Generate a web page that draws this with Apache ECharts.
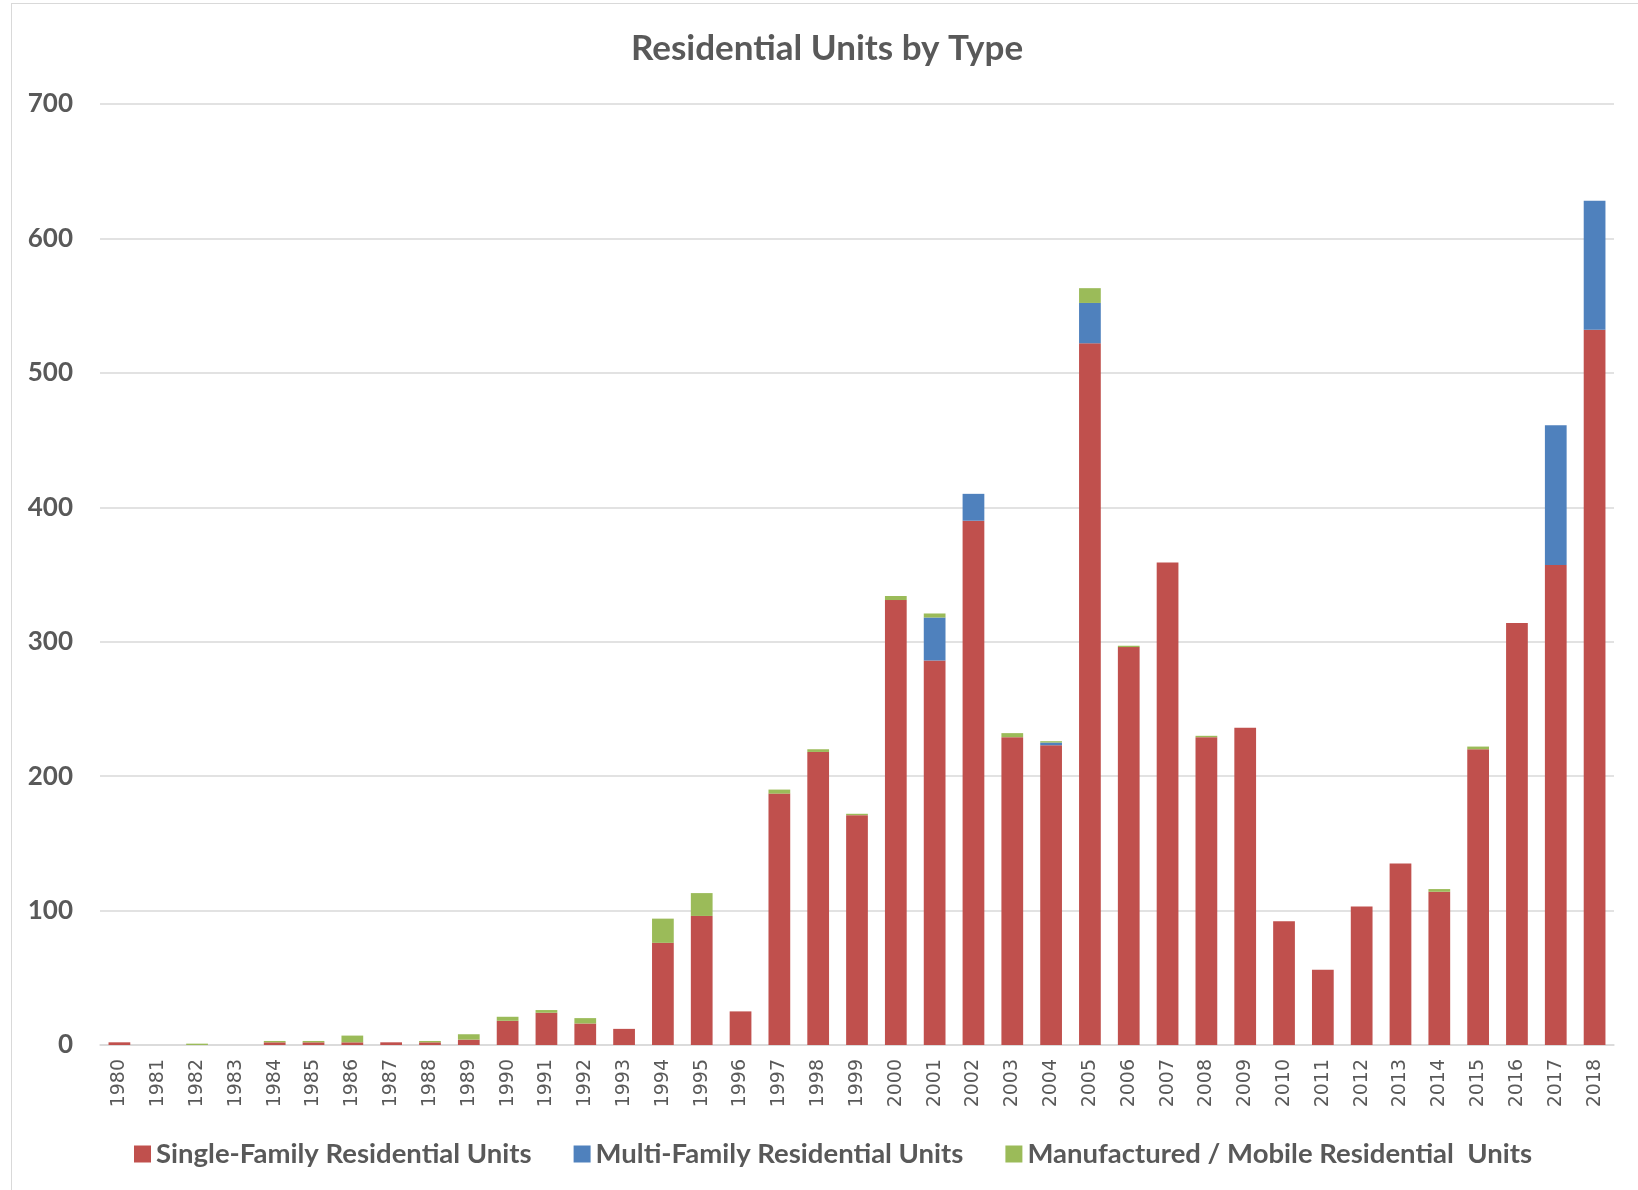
<!DOCTYPE html>
<html>
<head>
<meta charset="utf-8">
<title>Residential Units by Type</title>
<script src="https://cdn.jsdelivr.net/npm/echarts@6/dist/echarts.min.js"></script>
<style>
  html, body { margin: 0; padding: 0; overflow: hidden; background: #fff; }
  #frame { position: absolute; left: 11px; top: 3px; width: 1700px; height: 1300px; border: 1px solid #d9d9d9; }
  #main { position: absolute; left: 0; top: 0; width: 1638px; height: 1190px; }
</style>
</head>
<body>
<div id="frame"></div>
<div id="main"></div>
<script>
// 年份
const years = ['1980', '1981', '1982', '1983', '1984', '1985', '1986', '1987', '1988', '1989',
  '1990', '1991', '1992', '1993', '1994', '1995', '1996', '1997', '1998', '1999',
  '2000', '2001', '2002', '2003', '2004', '2005', '2006', '2007', '2008', '2009',
  '2010', '2011', '2012', '2013', '2014', '2015', '2016', '2017', '2018']

const singleFamily = [2, 0, 0, 0, 2, 2, 2, 2, 2, 4,
  18, 24, 16, 12, 76, 96, 25, 187, 218, 171,
  331, 286, 390, 229, 223, 522, 296, 359, 229, 236,
  92, 56, 103, 135, 114, 220, 314, 357, 532]

const multiFamily = [0, 0, 0, 0, 0, 0, 0, 0, 0, 0,
  0, 0, 0, 0, 0, 0, 0, 0, 0, 0,
  0, 32, 20, 0, 2, 30, 0, 0, 0, 0,
  0, 0, 0, 0, 0, 0, 0, 104, 96]

const manufactured = [0, 0, 1, 0, 1, 1, 5, 0, 1, 4,
  3, 2, 4, 0, 18, 17, 0, 3, 2, 1,
  3, 3, 0, 3, 1, 11, 1, 0, 1, 0,
  0, 0, 0, 0, 2, 2, 0, 0, 0]

const yTicks = { min: 0, max: 700, interval: 100 }

const seriesNames = ['Single-Family Residential Units', 'Multi-Family Residential Units', 'Manufactured / Mobile Residential  Units']
const seriesColors = ['#c0504d', '#4f81bd', '#9bbb59']

const textGray = '#595959'
const gridGray = '#d9d9d9'

var myChart = echarts.init(document.getElementById('main'))

var option = {
  animation: false,
  title: {
    text: 'Residential Units by Type',
    left: 827,
    textAlign: 'center',
    top: 31,
    padding: 0,
    textStyle: {
      fontFamily: 'Lato',
      fontWeight: 'bold',
      fontSize: 35,
      color: textGray
    }
  },
  legend: {
    data: seriesNames,
    left: 129,
    top: 1135,
    itemWidth: 17,
    itemHeight: 17,
    itemGap: 42,
    icon: 'rect',
    textStyle: {
      fontFamily: 'Lato',
      fontWeight: 'bold',
      fontSize: 27.5,
      color: textGray
    }
  },
  grid: {
    left: 100,
    right: 24,
    top: 104,
    bottom: 145
  },
  xAxis: {
    type: 'category',
    data: years,
    axisTick: { show: false },
    axisLine: { lineStyle: { color: gridGray, width: 1.5 } },
    axisLabel: {
      interval: 0,
      rotate: 90,
      margin: 14,
      fontFamily: 'DejaVu Sans',
      fontSize: 19,
      color: textGray
    }
  },
  yAxis: {
    type: 'value',
    min: yTicks.min,
    max: yTicks.max,
    interval: yTicks.interval,
    axisLine: { show: false },
    axisTick: { show: false },
    splitLine: { lineStyle: { color: gridGray, width: 1.5 } },
    axisLabel: {
      margin: 27,
      fontFamily: 'Lato',
      fontWeight: 'bold',
      fontSize: 26,
      color: textGray
    }
  },
  series: [
    {
      name: seriesNames[0],
      type: 'bar',
      stack: 'total',
      barCategoryGap: '44%',
      itemStyle: { color: seriesColors[0] },
      data: singleFamily
    },
    {
      name: seriesNames[1],
      type: 'bar',
      stack: 'total',
      barCategoryGap: '44%',
      itemStyle: { color: seriesColors[1] },
      data: multiFamily
    },
    {
      name: seriesNames[2],
      type: 'bar',
      stack: 'total',
      barCategoryGap: '44%',
      itemStyle: { color: seriesColors[2] },
      data: manufactured
    }
  ]
}

myChart.setOption(option)
</script>
</body>
</html>
